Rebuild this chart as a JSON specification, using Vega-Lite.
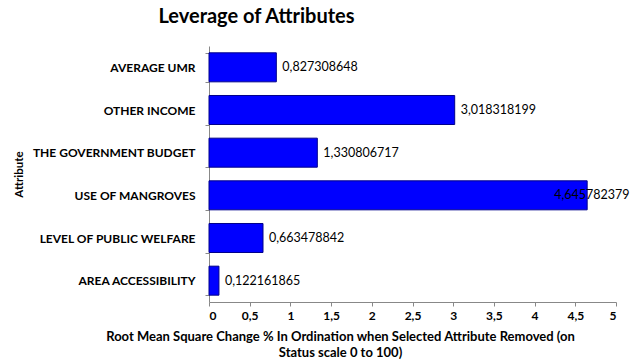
{
  "$schema": "https://vega.github.io/schema/vega-lite/v6.json",
  "autosize": {"type": "none"},
  "width": 407,
  "height": 256,
  "padding": {"left": 209, "top": 46, "right": 24, "bottom": 61},
  "background": "white",
  "config": {
    "font": "Lato",
    "view": {"stroke": null},
    "locale": {"number": {"decimal": ",", "thousands": ".", "grouping": [3], "currency": ["", ""]}}
  },
  "title": {
    "text": "Leverage of Attributes",
    "fontSize": 20,
    "fontWeight": "bold",
    "font": "Lato",
    "color": "black",
    "anchor": "middle",
    "dx": -156,
    "offset": 13
  },
  "data": {
    "values": [
      {"attribute": "AVERAGE UMR", "value": 0.827308648},
      {"attribute": "OTHER INCOME", "value": 3.018318199},
      {"attribute": "THE GOVERNMENT BUDGET", "value": 1.330806717},
      {"attribute": "USE OF MANGROVES", "value": 4.645782379},
      {"attribute": "LEVEL OF PUBLIC WELFARE", "value": 0.663478842},
      {"attribute": "AREA ACCESSIBILITY", "value": 0.122161865}
    ]
  },
  "encoding": {
    "y": {
      "field": "attribute",
      "type": "nominal",
      "sort": null,
      "scale": {"paddingInner": 0.32, "paddingOuter": 0.16},
      "axis": {
        "title": "Attribute",
        "titleFontSize": 11.5,
        "titleFontWeight": "bold",
        "titleColor": "black",
        "titlePadding": 0,
        "titleX": -185,
        "labelFontSize": 12,
        "labelFontWeight": "bold",
        "labelColor": "black",
        "labelPadding": 10,
        "tickBand": "extent",
        "tickSize": 4,
        "tickColor": "#888888",
        "domainColor": "#888888"
      }
    },
    "x": {
      "field": "value",
      "type": "quantitative",
      "scale": {"domain": [0, 5], "nice": false},
      "axis": {
        "values": [0, 0.5, 1, 1.5, 2, 2.5, 3, 3.5, 4, 4.5, 5],
        "format": "~g",
        "grid": false,
        "title": ["Root Mean Square Change % In Ordination when Selected Attribute Removed (on", "Status scale 0 to 100)"],
        "titleFontSize": 13,
        "titleFontWeight": "bold",
        "titleColor": "black",
        "titlePadding": 9,
        "titleLineHeight": 16,
        "titleX": 131,
        "titleAlign": "center",
        "labelFontSize": 12,
        "labelFontWeight": "bold",
        "labelColor": "black",
        "labelPadding": 4,
        "tickSize": 4,
        "tickColor": "#888888",
        "domainColor": "#888888"
      }
    }
  },
  "layer": [
    {
      "mark": {"type": "bar", "color": "#0000FF", "stroke": "#00008B", "strokeWidth": 1}
    },
    {
      "transform": [{"filter": "datum.value < 4"}],
      "mark": {"type": "text", "align": "left", "dx": 6, "fontSize": 12.5, "color": "black"},
      "encoding": {"text": {"field": "value", "type": "quantitative", "format": ".9f"}}
    },
    {
      "transform": [{"filter": "datum.value >= 4"}],
      "mark": {"type": "text", "align": "left", "dx": -33, "fontSize": 12.5, "color": "black"},
      "encoding": {"text": {"field": "value", "type": "quantitative", "format": ".9f"}}
    }
  ]
}
